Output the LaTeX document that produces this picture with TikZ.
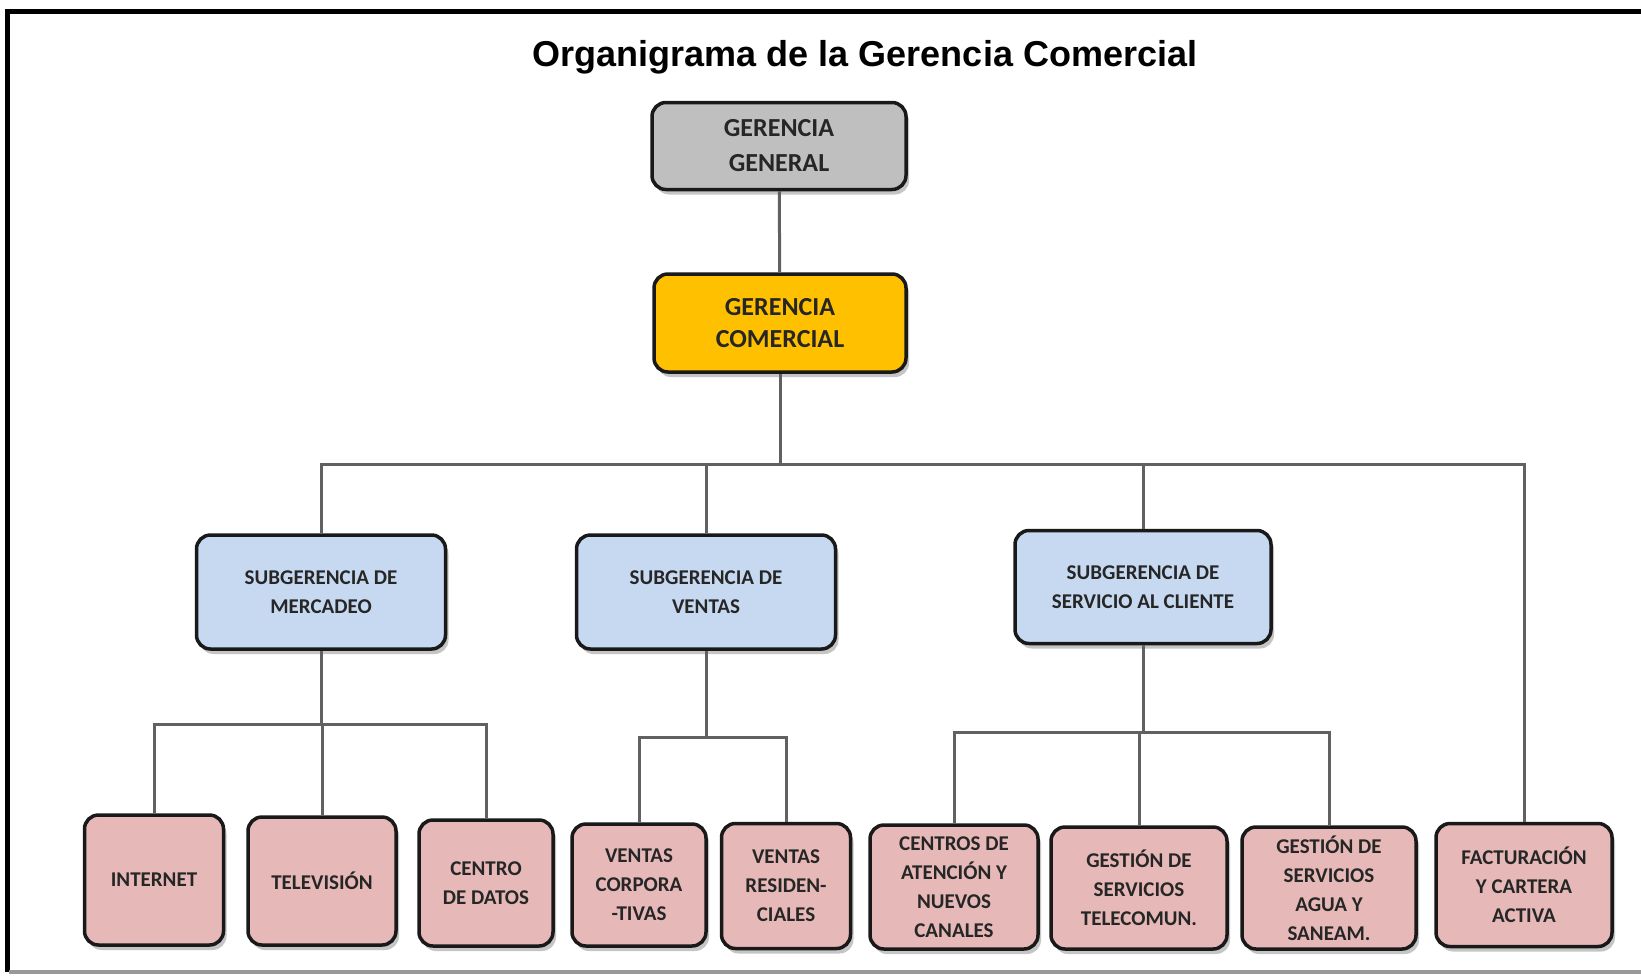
\documentclass[tikz,border=0pt]{standalone}
\usepackage{fontspec}
\setmainfont{Carlito}
\newfontfamily\titlefont{Liberation Sans}
\usepackage{tikz}
\usetikzlibrary{shadows}
\usepackage{xcolor}
\definecolor{ocgray}{RGB}{191,191,191}
\definecolor{ocgold}{RGB}{255,192,0}
\definecolor{ocblue}{RGB}{198,217,241}
\definecolor{ocpink}{RGB}{230,185,184}
\definecolor{octext}{RGB}{38,38,38}
\tikzstyle{link} = [line width=3pt, color=black!62]
\tikzstyle{unit} = [rectangle, rounded corners=14pt, draw=black!90, line width=3.5pt, text=octext, align=center, inner sep=2pt, drop shadow={shadow xshift=3pt, shadow yshift=-5pt, fill=black!45}]
\tikzstyle{gerencia} = [unit, font=\bfseries\fontsize{26}{35}\selectfont]
\tikzstyle{subgerencia} = [unit, fill=ocblue, font=\bfseries\fontsize{21}{29}\selectfont]
\tikzstyle{area} = [unit, fill=ocpink, font=\bfseries\fontsize{21}{29}\selectfont]

\begin{document}
\begin{tikzpicture}[x=1pt, y=-1pt]
\useasboundingbox (0,0) rectangle (1641,975);
\fill[white] (0,0) rectangle (1641,975);

% Marco
\draw[line width=5pt] (1641,11) -- (7,11) -- (7,972);
\draw[line width=4pt, black!40] (9,972) -- (1641,972);

% Titulo
\node (title) at (865,57) {\titlefont\bfseries\fontsize{36}{40}\selectfont Organigrama de la Gerencia Comercial};

% Gerencias
\node (gg) [gerencia, fill=ocgray, minimum width=254pt, minimum height=87pt] at (779,146) {GERENCIA\\GENERAL};
\node (gc) [gerencia, fill=ocgold, minimum width=252pt, minimum height=98pt, font=\bfseries\fontsize{26}{32.5}\selectfont] at (780,323) {GERENCIA\\COMERCIAL};

% Subgerencias
\node (sm) [subgerencia, minimum width=249pt, minimum height=114pt] at (321,592) {SUBGERENCIA DE\\MERCADEO};
\node (sv) [subgerencia, minimum width=259pt, minimum height=114pt] at (706,592) {SUBGERENCIA DE\\VENTAS};
\node (ss) [subgerencia, minimum width=256pt, minimum height=113pt] at (1143,587) {SUBGERENCIA DE\\SERVICIO AL CLIENTE};

% Areas
\node (in) [area, minimum width=139pt, minimum height=130pt] at (154,880) {INTERNET};
\node (tv) [area, minimum width=148pt, minimum height=128pt] at (322,881) {TELEVISIÓN};
\node (cd) [area, minimum width=134pt, minimum height=126pt] at (486,883) {CENTRO\\DE DATOS};
\node (vc) [area, minimum width=134pt, minimum height=122pt] at (639,885) {VENTAS\\CORPORA\\-TIVAS};
\node (vr) [area, minimum width=129pt, minimum height=125pt] at (786,886) {VENTAS\\RESIDEN-\\CIALES};
\node (ca) [area, minimum width=168pt, minimum height=124pt] at (954,887) {CENTROS DE\\ATENCIÓN Y\\NUEVOS\\CANALES};
\node (gt) [area, minimum width=176pt, minimum height=122pt] at (1139,888) {GESTIÓN DE\\SERVICIOS\\TELECOMUN.};
\node (ga) [area, minimum width=174pt, minimum height=122pt] at (1329,888) {GESTIÓN DE\\SERVICIOS\\AGUA Y\\SANEAM.};
\node (fa) [area, minimum width=176pt, minimum height=123pt] at (1524,885) {FACTURACIÓN\\Y CARTERA\\ACTIVA};

% Conexiones
\coordinate (bus) at (780,464);
\coordinate (busm) at (321,724);
\coordinate (busv) at (706,737);
\coordinate (buss) at (1143,732);
\draw[link] (gg) -- (gc);
\draw[link] (gc) -- (bus);
\foreach \n in {sm,sv,ss,fa}
  \draw[link] (bus) -| (\n);
\draw[link] (sm) -- (busm);
\foreach \n in {in,tv,cd}
  \draw[link] (busm) -| (\n);
\draw[link] (sv) -- (busv);
\foreach \n in {vc,vr}
  \draw[link] (busv) -| (\n);
\draw[link] (ss) -- (buss);
\foreach \n in {ca,gt,ga}
  \draw[link] (buss) -| (\n);

\end{tikzpicture}
\end{document}
